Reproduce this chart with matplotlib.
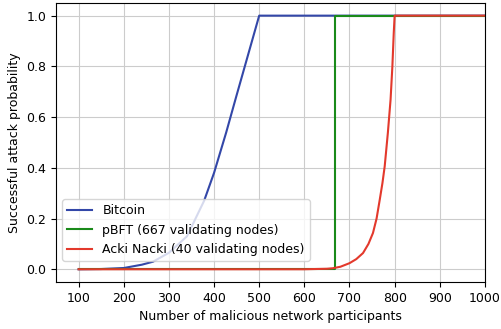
import matplotlib
matplotlib.use("Agg")
import matplotlib.pyplot as plt

# values
btc_n = [100, 150, 200, 240, 265, 300, 340, 378, 400, 427, 449, 471, 500, 1000]
btc_p = [0.0, 0.001, 0.005, 0.018, 0.03, 0.065, 0.13, 0.27, 0.38, 0.54, 0.68,
         0.818, 1.0, 1.0]

pbft_n = [100, 667, 667, 1000]
pbft_p = [0.0, 0.0, 1.0, 1.0]

acki_n = [100, 600, 650, 663, 680, 700, 715, 730, 742, 752, 760, 767, 773,
          778, 785, 791, 795, 798, 800, 1000]
acki_p = [0.0, 0.0, 0.002, 0.004, 0.01, 0.024, 0.04, 0.064, 0.1, 0.143, 0.2,
          0.274, 0.34, 0.406, 0.538, 0.669, 0.80, 0.93, 1.0, 1.0]

x_ticks = [100, 200, 300, 400, 500, 600, 700, 800, 900, 1000]

plt.rcParams["font.size"] = 9

fig, ax = plt.subplots(figsize=(5.02, 3.29), dpi=100)
fig.subplots_adjust(left=0.1116, right=0.966, top=0.991, bottom=0.143)

ax.plot(btc_n, btc_p, color="#3347a8", lw=1.5, label="Bitcoin")
ax.plot(pbft_n, pbft_p, color="#1a8a1a", lw=1.5,
        label="pBFT (667 validating nodes)")
ax.plot(acki_n, acki_p, color="#e3392c", lw=1.5,
        label="Acki Nacki (40 validating nodes)")

ax.set_xlim(50, 1000)
ax.set_ylim(-0.05, 1.05)
ax.set_xticks(x_ticks)
ax.grid(True, color="#cccccc")
ax.set_xlabel("Number of malicious network participants")
ax.set_ylabel("Successful attack probability")
ax.legend(loc="lower left", bbox_to_anchor=(0, 0.053))

plt.savefig("out.png", dpi=100)
plt.close(fig)
